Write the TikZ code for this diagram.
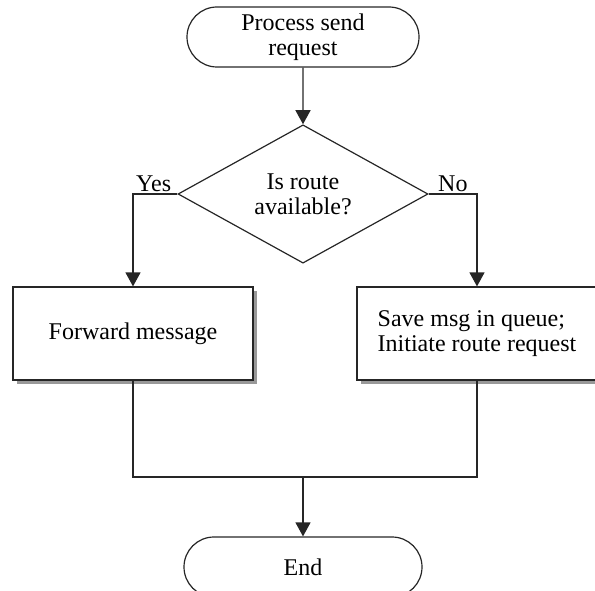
\documentclass[tikz,border=0pt]{standalone}
\usepackage{fontspec}
\setmainfont{Liberation Serif}
\usetikzlibrary{shapes.geometric, shapes.misc, arrows.meta, shadows}

\tikzset{
    terminal/.style={draw=black!85, line width=1.2pt, rounded rectangle, minimum width=236pt, minimum height=60pt, inner sep=2pt, align=center},
    decision/.style={draw=black!85, line width=1.2pt, diamond, minimum width=250pt, minimum height=138pt, inner sep=0pt, align=center},
    process/.style={draw=black!85, line width=1.2pt, rectangle, fill=white, minimum width=240pt, minimum height=93pt, align=left,
        drop shadow={shadow xshift=4pt, shadow yshift=-4pt, fill=gray!80, opacity=1}},
    flow/.style={line width=1.3pt, black!85},
    flowarrow/.style={flow, -{Triangle[width=15pt, length=14pt]}}
}

\begin{document}
\begin{tikzpicture}[x=1pt, y=1pt, font=\fontsize{24}{25}\selectfont]
    \useasboundingbox (0, 0) rectangle (595, -591);

    % Start and decision
    \node[terminal] (start) at (303, -37) {Process send\\request};
    \node[decision] (route) at (303, -194) {Is route\\available?};

    % The two branches
    \node[process] (forward) at (133, -333.5) {Forward message};
    \node[process] (queue) at (477, -333.5) {Save msg in queue;\\Initiate route request};

    % Branch labels
    \node[anchor=south west, inner sep=2pt] (yes) at (134, -194) {Yes};
    \node[anchor=south west, inner sep=2pt] (no) at (436, -194) {No};

    % End
    \coordinate (merge) at (303, -477);
    \node[terminal, minimum width=242pt] (end) at (303, -567) {End};

    % Arrows
    \draw[flowarrow] (start) -- (route);
    \draw[flowarrow] (route.west) -| (forward.north);
    \draw[flowarrow] (route.east) -| (queue.north);
    \draw[flow] (forward.south) |- (merge) -| (queue.south);
    \draw[flowarrow] (merge) -- (end);
\end{tikzpicture}
\end{document}
